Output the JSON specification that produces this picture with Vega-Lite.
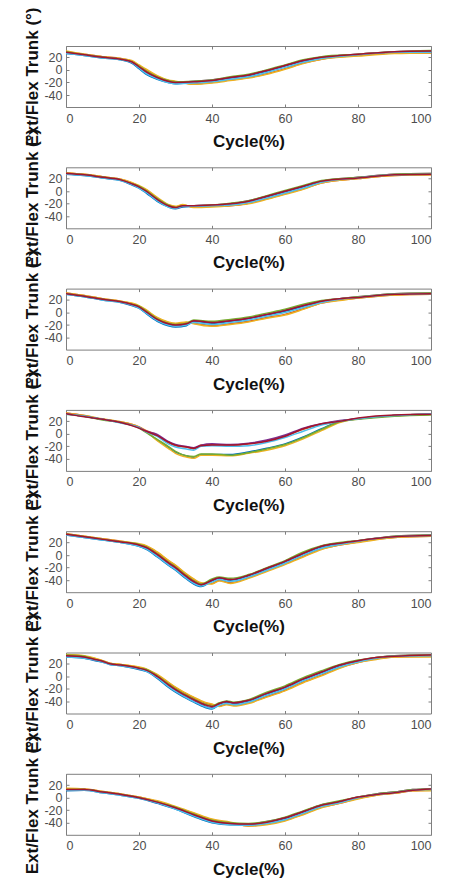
{
"$schema":"https://vega.github.io/schema/vega-lite/v6.json",
"padding":{"left":23,"top":6,"right":0,"bottom":0},
"bounds":"flush",
"data":{"values":[
{"p":1,"c":1,"x":0,"y":26},{"p":1,"c":1,"x":5,"y":23},{"p":1,"c":1,"x":10,"y":19},{"p":1,"c":1,"x":15,"y":16},{"p":1,"c":1,"x":18,"y":11},{"p":1,"c":1,"x":20,"y":2},{"p":1,"c":1,"x":22,"y":-7},{"p":1,"c":1,"x":25,"y":-15},{"p":1,"c":1,"x":28,"y":-20},{"p":1,"c":1,"x":30,"y":-22},{"p":1,"c":1,"x":35,"y":-19},{"p":1,"c":1,"x":40,"y":-17},{"p":1,"c":1,"x":45,"y":-13},{"p":1,"c":1,"x":50,"y":-9},{"p":1,"c":1,"x":55,"y":-2},{"p":1,"c":1,"x":60,"y":6},{"p":1,"c":1,"x":65,"y":14},{"p":1,"c":1,"x":70,"y":19},{"p":1,"c":1,"x":80,"y":24},{"p":1,"c":1,"x":90,"y":28},{"p":1,"c":1,"x":100,"y":29},
{"p":1,"c":2,"x":0,"y":29},{"p":1,"c":2,"x":5,"y":25},{"p":1,"c":2,"x":10,"y":21},{"p":1,"c":2,"x":15,"y":18},{"p":1,"c":2,"x":18,"y":14},{"p":1,"c":2,"x":20,"y":7},{"p":1,"c":2,"x":22,"y":-1},{"p":1,"c":2,"x":25,"y":-10},{"p":1,"c":2,"x":28,"y":-17},{"p":1,"c":2,"x":30,"y":-19},{"p":1,"c":2,"x":35,"y":-22},{"p":1,"c":2,"x":40,"y":-20},{"p":1,"c":2,"x":45,"y":-16},{"p":1,"c":2,"x":50,"y":-12},{"p":1,"c":2,"x":55,"y":-6},{"p":1,"c":2,"x":60,"y":2},{"p":1,"c":2,"x":65,"y":11},{"p":1,"c":2,"x":70,"y":17},{"p":1,"c":2,"x":80,"y":23},{"p":1,"c":2,"x":90,"y":27},{"p":1,"c":2,"x":100,"y":27},
{"p":1,"c":3,"x":0,"y":30},{"p":1,"c":3,"x":5,"y":25},{"p":1,"c":3,"x":10,"y":21},{"p":1,"c":3,"x":15,"y":18},{"p":1,"c":3,"x":18,"y":15},{"p":1,"c":3,"x":20,"y":8},{"p":1,"c":3,"x":22,"y":1},{"p":1,"c":3,"x":25,"y":-9},{"p":1,"c":3,"x":28,"y":-16},{"p":1,"c":3,"x":30,"y":-18},{"p":1,"c":3,"x":35,"y":-23},{"p":1,"c":3,"x":40,"y":-21},{"p":1,"c":3,"x":45,"y":-17},{"p":1,"c":3,"x":50,"y":-13},{"p":1,"c":3,"x":55,"y":-7},{"p":1,"c":3,"x":60,"y":1},{"p":1,"c":3,"x":65,"y":10},{"p":1,"c":3,"x":70,"y":17},{"p":1,"c":3,"x":80,"y":22},{"p":1,"c":3,"x":90,"y":26},{"p":1,"c":3,"x":100,"y":27},
{"p":1,"c":4,"x":0,"y":27},{"p":1,"c":4,"x":5,"y":24},{"p":1,"c":4,"x":10,"y":20},{"p":1,"c":4,"x":15,"y":17},{"p":1,"c":4,"x":18,"y":12},{"p":1,"c":4,"x":20,"y":4},{"p":1,"c":4,"x":22,"y":-4},{"p":1,"c":4,"x":25,"y":-13},{"p":1,"c":4,"x":28,"y":-19},{"p":1,"c":4,"x":30,"y":-21},{"p":1,"c":4,"x":35,"y":-18},{"p":1,"c":4,"x":40,"y":-16},{"p":1,"c":4,"x":45,"y":-12},{"p":1,"c":4,"x":50,"y":-8},{"p":1,"c":4,"x":55,"y":-1},{"p":1,"c":4,"x":60,"y":7},{"p":1,"c":4,"x":65,"y":15},{"p":1,"c":4,"x":70,"y":20},{"p":1,"c":4,"x":80,"y":25},{"p":1,"c":4,"x":90,"y":29},{"p":1,"c":4,"x":100,"y":30},
{"p":1,"c":5,"x":0,"y":29},{"p":1,"c":5,"x":5,"y":24},{"p":1,"c":5,"x":10,"y":20},{"p":1,"c":5,"x":15,"y":17},{"p":1,"c":5,"x":18,"y":13},{"p":1,"c":5,"x":20,"y":6},{"p":1,"c":5,"x":22,"y":-2},{"p":1,"c":5,"x":25,"y":-11},{"p":1,"c":5,"x":28,"y":-17},{"p":1,"c":5,"x":30,"y":-19},{"p":1,"c":5,"x":35,"y":-18},{"p":1,"c":5,"x":40,"y":-16},{"p":1,"c":5,"x":45,"y":-11},{"p":1,"c":5,"x":50,"y":-7},{"p":1,"c":5,"x":55,"y":0},{"p":1,"c":5,"x":60,"y":8},{"p":1,"c":5,"x":65,"y":16},{"p":1,"c":5,"x":70,"y":21},{"p":1,"c":5,"x":80,"y":25},{"p":1,"c":5,"x":90,"y":29},{"p":1,"c":5,"x":100,"y":31},
{"p":1,"c":6,"x":0,"y":26},{"p":1,"c":6,"x":5,"y":23},{"p":1,"c":6,"x":10,"y":19},{"p":1,"c":6,"x":15,"y":16},{"p":1,"c":6,"x":18,"y":12},{"p":1,"c":6,"x":20,"y":3},{"p":1,"c":6,"x":22,"y":-6},{"p":1,"c":6,"x":25,"y":-14},{"p":1,"c":6,"x":28,"y":-20},{"p":1,"c":6,"x":30,"y":-22},{"p":1,"c":6,"x":35,"y":-21},{"p":1,"c":6,"x":40,"y":-19},{"p":1,"c":6,"x":45,"y":-15},{"p":1,"c":6,"x":50,"y":-11},{"p":1,"c":6,"x":55,"y":-4},{"p":1,"c":6,"x":60,"y":4},{"p":1,"c":6,"x":65,"y":12},{"p":1,"c":6,"x":70,"y":18},{"p":1,"c":6,"x":80,"y":24},{"p":1,"c":6,"x":90,"y":28},{"p":1,"c":6,"x":100,"y":28},
{"p":1,"c":7,"x":0,"y":28},{"p":1,"c":7,"x":5,"y":24},{"p":1,"c":7,"x":10,"y":20},{"p":1,"c":7,"x":15,"y":17},{"p":1,"c":7,"x":18,"y":13},{"p":1,"c":7,"x":20,"y":5},{"p":1,"c":7,"x":22,"y":-3},{"p":1,"c":7,"x":25,"y":-12},{"p":1,"c":7,"x":28,"y":-18},{"p":1,"c":7,"x":30,"y":-20},{"p":1,"c":7,"x":35,"y":-19},{"p":1,"c":7,"x":40,"y":-17},{"p":1,"c":7,"x":45,"y":-12},{"p":1,"c":7,"x":50,"y":-8},{"p":1,"c":7,"x":55,"y":-1},{"p":1,"c":7,"x":60,"y":7},{"p":1,"c":7,"x":65,"y":15},{"p":1,"c":7,"x":70,"y":20},{"p":1,"c":7,"x":80,"y":25},{"p":1,"c":7,"x":90,"y":29},{"p":1,"c":7,"x":100,"y":30},

{"p":2,"c":1,"x":0,"y":27},{"p":2,"c":1,"x":5,"y":25},{"p":2,"c":1,"x":10,"y":21},{"p":2,"c":1,"x":15,"y":17},{"p":2,"c":1,"x":18,"y":10},{"p":2,"c":1,"x":20,"y":5},{"p":2,"c":1,"x":22,"y":-3},{"p":2,"c":1,"x":25,"y":-16},{"p":2,"c":1,"x":28,"y":-25},{"p":2,"c":1,"x":30,"y":-28},{"p":2,"c":1,"x":32,"y":-25},{"p":2,"c":1,"x":35,"y":-24},{"p":2,"c":1,"x":40,"y":-23},{"p":2,"c":1,"x":45,"y":-21},{"p":2,"c":1,"x":50,"y":-16},{"p":2,"c":1,"x":55,"y":-9},{"p":2,"c":1,"x":60,"y":-1},{"p":2,"c":1,"x":65,"y":7},{"p":2,"c":1,"x":70,"y":15},{"p":2,"c":1,"x":80,"y":21},{"p":2,"c":1,"x":90,"y":26},{"p":2,"c":1,"x":100,"y":27},
{"p":2,"c":2,"x":0,"y":29},{"p":2,"c":2,"x":5,"y":27},{"p":2,"c":2,"x":10,"y":23},{"p":2,"c":2,"x":15,"y":19},{"p":2,"c":2,"x":18,"y":13},{"p":2,"c":2,"x":20,"y":8},{"p":2,"c":2,"x":22,"y":2},{"p":2,"c":2,"x":25,"y":-11},{"p":2,"c":2,"x":28,"y":-22},{"p":2,"c":2,"x":30,"y":-25},{"p":2,"c":2,"x":32,"y":-22},{"p":2,"c":2,"x":35,"y":-25},{"p":2,"c":2,"x":40,"y":-24},{"p":2,"c":2,"x":45,"y":-23},{"p":2,"c":2,"x":50,"y":-19},{"p":2,"c":2,"x":55,"y":-12},{"p":2,"c":2,"x":60,"y":-4},{"p":2,"c":2,"x":65,"y":4},{"p":2,"c":2,"x":70,"y":13},{"p":2,"c":2,"x":80,"y":20},{"p":2,"c":2,"x":90,"y":25},{"p":2,"c":2,"x":100,"y":26},
{"p":2,"c":3,"x":0,"y":29},{"p":2,"c":3,"x":5,"y":27},{"p":2,"c":3,"x":10,"y":23},{"p":2,"c":3,"x":15,"y":19},{"p":2,"c":3,"x":18,"y":14},{"p":2,"c":3,"x":20,"y":9},{"p":2,"c":3,"x":22,"y":3},{"p":2,"c":3,"x":25,"y":-10},{"p":2,"c":3,"x":28,"y":-21},{"p":2,"c":3,"x":30,"y":-24},{"p":2,"c":3,"x":32,"y":-21},{"p":2,"c":3,"x":35,"y":-26},{"p":2,"c":3,"x":40,"y":-25},{"p":2,"c":3,"x":45,"y":-23},{"p":2,"c":3,"x":50,"y":-20},{"p":2,"c":3,"x":55,"y":-13},{"p":2,"c":3,"x":60,"y":-5},{"p":2,"c":3,"x":65,"y":3},{"p":2,"c":3,"x":70,"y":13},{"p":2,"c":3,"x":80,"y":20},{"p":2,"c":3,"x":90,"y":25},{"p":2,"c":3,"x":100,"y":26},
{"p":2,"c":4,"x":0,"y":28},{"p":2,"c":4,"x":5,"y":26},{"p":2,"c":4,"x":10,"y":22},{"p":2,"c":4,"x":15,"y":18},{"p":2,"c":4,"x":18,"y":11},{"p":2,"c":4,"x":20,"y":6},{"p":2,"c":4,"x":22,"y":-1},{"p":2,"c":4,"x":25,"y":-14},{"p":2,"c":4,"x":28,"y":-24},{"p":2,"c":4,"x":30,"y":-27},{"p":2,"c":4,"x":32,"y":-24},{"p":2,"c":4,"x":35,"y":-23},{"p":2,"c":4,"x":40,"y":-22},{"p":2,"c":4,"x":45,"y":-20},{"p":2,"c":4,"x":50,"y":-15},{"p":2,"c":4,"x":55,"y":-8},{"p":2,"c":4,"x":60,"y":0},{"p":2,"c":4,"x":65,"y":8},{"p":2,"c":4,"x":70,"y":16},{"p":2,"c":4,"x":80,"y":22},{"p":2,"c":4,"x":90,"y":27},{"p":2,"c":4,"x":100,"y":28},
{"p":2,"c":5,"x":0,"y":28},{"p":2,"c":5,"x":5,"y":26},{"p":2,"c":5,"x":10,"y":22},{"p":2,"c":5,"x":15,"y":18},{"p":2,"c":5,"x":18,"y":12},{"p":2,"c":5,"x":20,"y":8},{"p":2,"c":5,"x":22,"y":1},{"p":2,"c":5,"x":25,"y":-12},{"p":2,"c":5,"x":28,"y":-22},{"p":2,"c":5,"x":30,"y":-26},{"p":2,"c":5,"x":32,"y":-23},{"p":2,"c":5,"x":35,"y":-23},{"p":2,"c":5,"x":40,"y":-22},{"p":2,"c":5,"x":45,"y":-19},{"p":2,"c":5,"x":50,"y":-15},{"p":2,"c":5,"x":55,"y":-7},{"p":2,"c":5,"x":60,"y":1},{"p":2,"c":5,"x":65,"y":9},{"p":2,"c":5,"x":70,"y":17},{"p":2,"c":5,"x":80,"y":22},{"p":2,"c":5,"x":90,"y":27},{"p":2,"c":5,"x":100,"y":28},
{"p":2,"c":6,"x":0,"y":27},{"p":2,"c":6,"x":5,"y":25},{"p":2,"c":6,"x":10,"y":21},{"p":2,"c":6,"x":15,"y":17},{"p":2,"c":6,"x":18,"y":11},{"p":2,"c":6,"x":20,"y":5},{"p":2,"c":6,"x":22,"y":-2},{"p":2,"c":6,"x":25,"y":-15},{"p":2,"c":6,"x":28,"y":-25},{"p":2,"c":6,"x":30,"y":-27},{"p":2,"c":6,"x":32,"y":-24},{"p":2,"c":6,"x":35,"y":-24},{"p":2,"c":6,"x":40,"y":-23},{"p":2,"c":6,"x":45,"y":-22},{"p":2,"c":6,"x":50,"y":-18},{"p":2,"c":6,"x":55,"y":-11},{"p":2,"c":6,"x":60,"y":-3},{"p":2,"c":6,"x":65,"y":5},{"p":2,"c":6,"x":70,"y":14},{"p":2,"c":6,"x":80,"y":21},{"p":2,"c":6,"x":90,"y":26},{"p":2,"c":6,"x":100,"y":27},
{"p":2,"c":7,"x":0,"y":28},{"p":2,"c":7,"x":5,"y":26},{"p":2,"c":7,"x":10,"y":22},{"p":2,"c":7,"x":15,"y":18},{"p":2,"c":7,"x":18,"y":12},{"p":2,"c":7,"x":20,"y":7},{"p":2,"c":7,"x":22,"y":0},{"p":2,"c":7,"x":25,"y":-13},{"p":2,"c":7,"x":28,"y":-23},{"p":2,"c":7,"x":30,"y":-26},{"p":2,"c":7,"x":32,"y":-23},{"p":2,"c":7,"x":35,"y":-23},{"p":2,"c":7,"x":40,"y":-22},{"p":2,"c":7,"x":45,"y":-20},{"p":2,"c":7,"x":50,"y":-16},{"p":2,"c":7,"x":55,"y":-8},{"p":2,"c":7,"x":60,"y":0},{"p":2,"c":7,"x":65,"y":8},{"p":2,"c":7,"x":70,"y":16},{"p":2,"c":7,"x":80,"y":21},{"p":2,"c":7,"x":90,"y":26},{"p":2,"c":7,"x":100,"y":27},

{"p":3,"c":1,"x":0,"y":29},{"p":3,"c":1,"x":5,"y":25},{"p":3,"c":1,"x":10,"y":20},{"p":3,"c":1,"x":15,"y":16},{"p":3,"c":1,"x":18,"y":11},{"p":3,"c":1,"x":20,"y":7},{"p":3,"c":1,"x":22,"y":-2},{"p":3,"c":1,"x":25,"y":-14},{"p":3,"c":1,"x":28,"y":-21},{"p":3,"c":1,"x":30,"y":-23},{"p":3,"c":1,"x":33,"y":-21},{"p":3,"c":1,"x":35,"y":-14},{"p":3,"c":1,"x":40,"y":-17},{"p":3,"c":1,"x":45,"y":-14},{"p":3,"c":1,"x":50,"y":-10},{"p":3,"c":1,"x":55,"y":-4},{"p":3,"c":1,"x":60,"y":2},{"p":3,"c":1,"x":65,"y":10},{"p":3,"c":1,"x":70,"y":17},{"p":3,"c":1,"x":75,"y":21},{"p":3,"c":1,"x":80,"y":24},{"p":3,"c":1,"x":90,"y":29},{"p":3,"c":1,"x":100,"y":30},
{"p":3,"c":2,"x":0,"y":31},{"p":3,"c":2,"x":5,"y":27},{"p":3,"c":2,"x":10,"y":22},{"p":3,"c":2,"x":15,"y":18},{"p":3,"c":2,"x":18,"y":14},{"p":3,"c":2,"x":20,"y":10},{"p":3,"c":2,"x":22,"y":3},{"p":3,"c":2,"x":25,"y":-9},{"p":3,"c":2,"x":28,"y":-16},{"p":3,"c":2,"x":30,"y":-18},{"p":3,"c":2,"x":33,"y":-16},{"p":3,"c":2,"x":35,"y":-17},{"p":3,"c":2,"x":40,"y":-21},{"p":3,"c":2,"x":45,"y":-18},{"p":3,"c":2,"x":50,"y":-14},{"p":3,"c":2,"x":55,"y":-8},{"p":3,"c":2,"x":60,"y":-3},{"p":3,"c":2,"x":65,"y":6},{"p":3,"c":2,"x":70,"y":15},{"p":3,"c":2,"x":75,"y":20},{"p":3,"c":2,"x":80,"y":23},{"p":3,"c":2,"x":90,"y":28},{"p":3,"c":2,"x":100,"y":29},
{"p":3,"c":3,"x":0,"y":31},{"p":3,"c":3,"x":5,"y":27},{"p":3,"c":3,"x":10,"y":22},{"p":3,"c":3,"x":15,"y":18},{"p":3,"c":3,"x":18,"y":15},{"p":3,"c":3,"x":20,"y":11},{"p":3,"c":3,"x":22,"y":4},{"p":3,"c":3,"x":25,"y":-8},{"p":3,"c":3,"x":28,"y":-15},{"p":3,"c":3,"x":30,"y":-17},{"p":3,"c":3,"x":33,"y":-15},{"p":3,"c":3,"x":35,"y":-18},{"p":3,"c":3,"x":40,"y":-22},{"p":3,"c":3,"x":45,"y":-19},{"p":3,"c":3,"x":50,"y":-15},{"p":3,"c":3,"x":55,"y":-9},{"p":3,"c":3,"x":60,"y":-4},{"p":3,"c":3,"x":65,"y":5},{"p":3,"c":3,"x":70,"y":15},{"p":3,"c":3,"x":75,"y":19},{"p":3,"c":3,"x":80,"y":23},{"p":3,"c":3,"x":90,"y":28},{"p":3,"c":3,"x":100,"y":29},
{"p":3,"c":4,"x":0,"y":30},{"p":3,"c":4,"x":5,"y":26},{"p":3,"c":4,"x":10,"y":21},{"p":3,"c":4,"x":15,"y":17},{"p":3,"c":4,"x":18,"y":12},{"p":3,"c":4,"x":20,"y":8},{"p":3,"c":4,"x":22,"y":0},{"p":3,"c":4,"x":25,"y":-12},{"p":3,"c":4,"x":28,"y":-19},{"p":3,"c":4,"x":30,"y":-21},{"p":3,"c":4,"x":33,"y":-19},{"p":3,"c":4,"x":35,"y":-13},{"p":3,"c":4,"x":40,"y":-16},{"p":3,"c":4,"x":45,"y":-13},{"p":3,"c":4,"x":50,"y":-9},{"p":3,"c":4,"x":55,"y":-3},{"p":3,"c":4,"x":60,"y":4},{"p":3,"c":4,"x":65,"y":11},{"p":3,"c":4,"x":70,"y":18},{"p":3,"c":4,"x":75,"y":22},{"p":3,"c":4,"x":80,"y":25},{"p":3,"c":4,"x":90,"y":30},{"p":3,"c":4,"x":100,"y":31},
{"p":3,"c":5,"x":0,"y":30},{"p":3,"c":5,"x":5,"y":26},{"p":3,"c":5,"x":10,"y":21},{"p":3,"c":5,"x":15,"y":17},{"p":3,"c":5,"x":18,"y":13},{"p":3,"c":5,"x":20,"y":10},{"p":3,"c":5,"x":22,"y":2},{"p":3,"c":5,"x":25,"y":-10},{"p":3,"c":5,"x":28,"y":-17},{"p":3,"c":5,"x":30,"y":-19},{"p":3,"c":5,"x":33,"y":-17},{"p":3,"c":5,"x":35,"y":-12},{"p":3,"c":5,"x":40,"y":-14},{"p":3,"c":5,"x":45,"y":-11},{"p":3,"c":5,"x":50,"y":-7},{"p":3,"c":5,"x":55,"y":-1},{"p":3,"c":5,"x":60,"y":5},{"p":3,"c":5,"x":65,"y":13},{"p":3,"c":5,"x":70,"y":19},{"p":3,"c":5,"x":75,"y":22},{"p":3,"c":5,"x":80,"y":25},{"p":3,"c":5,"x":90,"y":30},{"p":3,"c":5,"x":100,"y":31},
{"p":3,"c":6,"x":0,"y":29},{"p":3,"c":6,"x":5,"y":25},{"p":3,"c":6,"x":10,"y":20},{"p":3,"c":6,"x":15,"y":16},{"p":3,"c":6,"x":18,"y":12},{"p":3,"c":6,"x":20,"y":7},{"p":3,"c":6,"x":22,"y":-1},{"p":3,"c":6,"x":25,"y":-13},{"p":3,"c":6,"x":28,"y":-20},{"p":3,"c":6,"x":30,"y":-22},{"p":3,"c":6,"x":33,"y":-20},{"p":3,"c":6,"x":35,"y":-16},{"p":3,"c":6,"x":40,"y":-19},{"p":3,"c":6,"x":45,"y":-16},{"p":3,"c":6,"x":50,"y":-12},{"p":3,"c":6,"x":55,"y":-6},{"p":3,"c":6,"x":60,"y":0},{"p":3,"c":6,"x":65,"y":8},{"p":3,"c":6,"x":70,"y":16},{"p":3,"c":6,"x":75,"y":21},{"p":3,"c":6,"x":80,"y":24},{"p":3,"c":6,"x":90,"y":29},{"p":3,"c":6,"x":100,"y":30},
{"p":3,"c":7,"x":0,"y":30},{"p":3,"c":7,"x":5,"y":26},{"p":3,"c":7,"x":10,"y":21},{"p":3,"c":7,"x":15,"y":17},{"p":3,"c":7,"x":18,"y":13},{"p":3,"c":7,"x":20,"y":9},{"p":3,"c":7,"x":22,"y":1},{"p":3,"c":7,"x":25,"y":-11},{"p":3,"c":7,"x":28,"y":-18},{"p":3,"c":7,"x":30,"y":-20},{"p":3,"c":7,"x":33,"y":-18},{"p":3,"c":7,"x":35,"y":-13},{"p":3,"c":7,"x":40,"y":-16},{"p":3,"c":7,"x":45,"y":-13},{"p":3,"c":7,"x":50,"y":-9},{"p":3,"c":7,"x":55,"y":-3},{"p":3,"c":7,"x":60,"y":3},{"p":3,"c":7,"x":65,"y":11},{"p":3,"c":7,"x":70,"y":18},{"p":3,"c":7,"x":75,"y":22},{"p":3,"c":7,"x":80,"y":24},{"p":3,"c":7,"x":90,"y":29},{"p":3,"c":7,"x":100,"y":30},

{"p":4,"c":1,"x":0,"y":32},{"p":4,"c":1,"x":5,"y":28},{"p":4,"c":1,"x":10,"y":23},{"p":4,"c":1,"x":15,"y":18},{"p":4,"c":1,"x":20,"y":10},{"p":4,"c":1,"x":22,"y":3},{"p":4,"c":1,"x":25,"y":-10},{"p":4,"c":1,"x":28,"y":-21},{"p":4,"c":1,"x":30,"y":-29},{"p":4,"c":1,"x":33,"y":-35},{"p":4,"c":1,"x":35,"y":-38},{"p":4,"c":1,"x":37,"y":-33},{"p":4,"c":1,"x":40,"y":-33},{"p":4,"c":1,"x":45,"y":-33},{"p":4,"c":1,"x":50,"y":-29},{"p":4,"c":1,"x":55,"y":-23},{"p":4,"c":1,"x":60,"y":-16},{"p":4,"c":1,"x":65,"y":-5},{"p":4,"c":1,"x":70,"y":8},{"p":4,"c":1,"x":75,"y":20},{"p":4,"c":1,"x":80,"y":24},{"p":4,"c":1,"x":90,"y":29},{"p":4,"c":1,"x":100,"y":31},
{"p":4,"c":2,"x":0,"y":33},{"p":4,"c":2,"x":5,"y":29},{"p":4,"c":2,"x":10,"y":23},{"p":4,"c":2,"x":15,"y":19},{"p":4,"c":2,"x":20,"y":11},{"p":4,"c":2,"x":22,"y":5},{"p":4,"c":2,"x":25,"y":-2},{"p":4,"c":2,"x":28,"y":-14},{"p":4,"c":2,"x":30,"y":-19},{"p":4,"c":2,"x":33,"y":-21},{"p":4,"c":2,"x":35,"y":-24},{"p":4,"c":2,"x":37,"y":-18},{"p":4,"c":2,"x":40,"y":-17},{"p":4,"c":2,"x":45,"y":-19},{"p":4,"c":2,"x":50,"y":-16},{"p":4,"c":2,"x":55,"y":-11},{"p":4,"c":2,"x":60,"y":-3},{"p":4,"c":2,"x":65,"y":7},{"p":4,"c":2,"x":70,"y":15},{"p":4,"c":2,"x":75,"y":20},{"p":4,"c":2,"x":80,"y":24},{"p":4,"c":2,"x":90,"y":29},{"p":4,"c":2,"x":100,"y":31},
{"p":4,"c":3,"x":0,"y":33},{"p":4,"c":3,"x":5,"y":29},{"p":4,"c":3,"x":10,"y":24},{"p":4,"c":3,"x":15,"y":19},{"p":4,"c":3,"x":20,"y":11},{"p":4,"c":3,"x":22,"y":4},{"p":4,"c":3,"x":25,"y":-11},{"p":4,"c":3,"x":28,"y":-23},{"p":4,"c":3,"x":30,"y":-31},{"p":4,"c":3,"x":33,"y":-37},{"p":4,"c":3,"x":35,"y":-39},{"p":4,"c":3,"x":37,"y":-34},{"p":4,"c":3,"x":40,"y":-34},{"p":4,"c":3,"x":45,"y":-35},{"p":4,"c":3,"x":50,"y":-31},{"p":4,"c":3,"x":55,"y":-26},{"p":4,"c":3,"x":60,"y":-19},{"p":4,"c":3,"x":65,"y":-8},{"p":4,"c":3,"x":70,"y":5},{"p":4,"c":3,"x":75,"y":18},{"p":4,"c":3,"x":80,"y":24},{"p":4,"c":3,"x":90,"y":29},{"p":4,"c":3,"x":100,"y":31},
{"p":4,"c":4,"x":0,"y":32},{"p":4,"c":4,"x":5,"y":28},{"p":4,"c":4,"x":10,"y":23},{"p":4,"c":4,"x":15,"y":18},{"p":4,"c":4,"x":20,"y":10},{"p":4,"c":4,"x":22,"y":4},{"p":4,"c":4,"x":25,"y":-1},{"p":4,"c":4,"x":28,"y":-12},{"p":4,"c":4,"x":30,"y":-17},{"p":4,"c":4,"x":33,"y":-20},{"p":4,"c":4,"x":35,"y":-22},{"p":4,"c":4,"x":37,"y":-18},{"p":4,"c":4,"x":40,"y":-16},{"p":4,"c":4,"x":45,"y":-17},{"p":4,"c":4,"x":50,"y":-15},{"p":4,"c":4,"x":55,"y":-10},{"p":4,"c":4,"x":60,"y":-2},{"p":4,"c":4,"x":65,"y":9},{"p":4,"c":4,"x":70,"y":16},{"p":4,"c":4,"x":75,"y":21},{"p":4,"c":4,"x":80,"y":24},{"p":4,"c":4,"x":90,"y":29},{"p":4,"c":4,"x":100,"y":31},
{"p":4,"c":5,"x":0,"y":31},{"p":4,"c":5,"x":5,"y":28},{"p":4,"c":5,"x":10,"y":22},{"p":4,"c":5,"x":15,"y":18},{"p":4,"c":5,"x":20,"y":9},{"p":4,"c":5,"x":22,"y":2},{"p":4,"c":5,"x":25,"y":-9},{"p":4,"c":5,"x":28,"y":-20},{"p":4,"c":5,"x":30,"y":-28},{"p":4,"c":5,"x":33,"y":-35},{"p":4,"c":5,"x":35,"y":-36},{"p":4,"c":5,"x":37,"y":-32},{"p":4,"c":5,"x":40,"y":-32},{"p":4,"c":5,"x":45,"y":-34},{"p":4,"c":5,"x":50,"y":-30},{"p":4,"c":5,"x":55,"y":-24},{"p":4,"c":5,"x":60,"y":-17},{"p":4,"c":5,"x":65,"y":-6},{"p":4,"c":5,"x":70,"y":7},{"p":4,"c":5,"x":75,"y":19},{"p":4,"c":5,"x":80,"y":23},{"p":4,"c":5,"x":90,"y":28},{"p":4,"c":5,"x":100,"y":30},
{"p":4,"c":6,"x":0,"y":31},{"p":4,"c":6,"x":5,"y":28},{"p":4,"c":6,"x":10,"y":23},{"p":4,"c":6,"x":15,"y":17},{"p":4,"c":6,"x":20,"y":10},{"p":4,"c":6,"x":22,"y":3},{"p":4,"c":6,"x":25,"y":-4},{"p":4,"c":6,"x":28,"y":-16},{"p":4,"c":6,"x":30,"y":-21},{"p":4,"c":6,"x":33,"y":-24},{"p":4,"c":6,"x":35,"y":-26},{"p":4,"c":6,"x":37,"y":-20},{"p":4,"c":6,"x":40,"y":-19},{"p":4,"c":6,"x":45,"y":-20},{"p":4,"c":6,"x":50,"y":-19},{"p":4,"c":6,"x":55,"y":-14},{"p":4,"c":6,"x":60,"y":-6},{"p":4,"c":6,"x":65,"y":4},{"p":4,"c":6,"x":70,"y":14},{"p":4,"c":6,"x":75,"y":20},{"p":4,"c":6,"x":80,"y":24},{"p":4,"c":6,"x":90,"y":29},{"p":4,"c":6,"x":100,"y":32},
{"p":4,"c":7,"x":0,"y":32},{"p":4,"c":7,"x":5,"y":27},{"p":4,"c":7,"x":10,"y":23},{"p":4,"c":7,"x":15,"y":18},{"p":4,"c":7,"x":20,"y":9},{"p":4,"c":7,"x":22,"y":4},{"p":4,"c":7,"x":25,"y":-3},{"p":4,"c":7,"x":28,"y":-13},{"p":4,"c":7,"x":30,"y":-18},{"p":4,"c":7,"x":33,"y":-21},{"p":4,"c":7,"x":35,"y":-23},{"p":4,"c":7,"x":37,"y":-19},{"p":4,"c":7,"x":40,"y":-18},{"p":4,"c":7,"x":45,"y":-18},{"p":4,"c":7,"x":50,"y":-16},{"p":4,"c":7,"x":55,"y":-12},{"p":4,"c":7,"x":60,"y":-4},{"p":4,"c":7,"x":65,"y":8},{"p":4,"c":7,"x":70,"y":16},{"p":4,"c":7,"x":75,"y":20},{"p":4,"c":7,"x":80,"y":25},{"p":4,"c":7,"x":90,"y":30},{"p":4,"c":7,"x":100,"y":31},

{"p":5,"c":1,"x":0,"y":32},{"p":5,"c":1,"x":5,"y":28},{"p":5,"c":1,"x":10,"y":24},{"p":5,"c":1,"x":15,"y":20},{"p":5,"c":1,"x":20,"y":14},{"p":5,"c":1,"x":22,"y":9},{"p":5,"c":1,"x":25,"y":-3},{"p":5,"c":1,"x":28,"y":-16},{"p":5,"c":1,"x":30,"y":-24},{"p":5,"c":1,"x":33,"y":-38},{"p":5,"c":1,"x":35,"y":-46},{"p":5,"c":1,"x":37,"y":-50},{"p":5,"c":1,"x":40,"y":-41},{"p":5,"c":1,"x":42,"y":-37},{"p":5,"c":1,"x":45,"y":-40},{"p":5,"c":1,"x":50,"y":-33},{"p":5,"c":1,"x":55,"y":-22},{"p":5,"c":1,"x":60,"y":-11},{"p":5,"c":1,"x":65,"y":2},{"p":5,"c":1,"x":70,"y":13},{"p":5,"c":1,"x":75,"y":18},{"p":5,"c":1,"x":80,"y":22},{"p":5,"c":1,"x":90,"y":29},{"p":5,"c":1,"x":100,"y":31},
{"p":5,"c":2,"x":0,"y":34},{"p":5,"c":2,"x":5,"y":30},{"p":5,"c":2,"x":10,"y":26},{"p":5,"c":2,"x":15,"y":22},{"p":5,"c":2,"x":20,"y":17},{"p":5,"c":2,"x":22,"y":14},{"p":5,"c":2,"x":25,"y":4},{"p":5,"c":2,"x":28,"y":-9},{"p":5,"c":2,"x":30,"y":-17},{"p":5,"c":2,"x":33,"y":-31},{"p":5,"c":2,"x":35,"y":-39},{"p":5,"c":2,"x":37,"y":-45},{"p":5,"c":2,"x":40,"y":-45},{"p":5,"c":2,"x":42,"y":-40},{"p":5,"c":2,"x":45,"y":-44},{"p":5,"c":2,"x":50,"y":-36},{"p":5,"c":2,"x":55,"y":-25},{"p":5,"c":2,"x":60,"y":-14},{"p":5,"c":2,"x":65,"y":-2},{"p":5,"c":2,"x":70,"y":10},{"p":5,"c":2,"x":75,"y":16},{"p":5,"c":2,"x":80,"y":21},{"p":5,"c":2,"x":90,"y":28},{"p":5,"c":2,"x":100,"y":30},
{"p":5,"c":3,"x":0,"y":34},{"p":5,"c":3,"x":5,"y":30},{"p":5,"c":3,"x":10,"y":26},{"p":5,"c":3,"x":15,"y":22},{"p":5,"c":3,"x":20,"y":18},{"p":5,"c":3,"x":22,"y":15},{"p":5,"c":3,"x":25,"y":5},{"p":5,"c":3,"x":28,"y":-8},{"p":5,"c":3,"x":30,"y":-16},{"p":5,"c":3,"x":33,"y":-30},{"p":5,"c":3,"x":35,"y":-38},{"p":5,"c":3,"x":37,"y":-44},{"p":5,"c":3,"x":40,"y":-46},{"p":5,"c":3,"x":42,"y":-41},{"p":5,"c":3,"x":45,"y":-45},{"p":5,"c":3,"x":50,"y":-37},{"p":5,"c":3,"x":55,"y":-26},{"p":5,"c":3,"x":60,"y":-15},{"p":5,"c":3,"x":65,"y":-3},{"p":5,"c":3,"x":70,"y":9},{"p":5,"c":3,"x":75,"y":16},{"p":5,"c":3,"x":80,"y":20},{"p":5,"c":3,"x":90,"y":28},{"p":5,"c":3,"x":100,"y":30},
{"p":5,"c":4,"x":0,"y":33},{"p":5,"c":4,"x":5,"y":29},{"p":5,"c":4,"x":10,"y":25},{"p":5,"c":4,"x":15,"y":21},{"p":5,"c":4,"x":20,"y":15},{"p":5,"c":4,"x":22,"y":11},{"p":5,"c":4,"x":25,"y":-1},{"p":5,"c":4,"x":28,"y":-14},{"p":5,"c":4,"x":30,"y":-22},{"p":5,"c":4,"x":33,"y":-36},{"p":5,"c":4,"x":35,"y":-44},{"p":5,"c":4,"x":37,"y":-48},{"p":5,"c":4,"x":40,"y":-40},{"p":5,"c":4,"x":42,"y":-36},{"p":5,"c":4,"x":45,"y":-39},{"p":5,"c":4,"x":50,"y":-32},{"p":5,"c":4,"x":55,"y":-21},{"p":5,"c":4,"x":60,"y":-10},{"p":5,"c":4,"x":65,"y":3},{"p":5,"c":4,"x":70,"y":14},{"p":5,"c":4,"x":75,"y":19},{"p":5,"c":4,"x":80,"y":23},{"p":5,"c":4,"x":90,"y":30},{"p":5,"c":4,"x":100,"y":32},
{"p":5,"c":5,"x":0,"y":33},{"p":5,"c":5,"x":5,"y":29},{"p":5,"c":5,"x":10,"y":25},{"p":5,"c":5,"x":15,"y":21},{"p":5,"c":5,"x":20,"y":17},{"p":5,"c":5,"x":22,"y":13},{"p":5,"c":5,"x":25,"y":2},{"p":5,"c":5,"x":28,"y":-11},{"p":5,"c":5,"x":30,"y":-19},{"p":5,"c":5,"x":33,"y":-33},{"p":5,"c":5,"x":35,"y":-41},{"p":5,"c":5,"x":37,"y":-46},{"p":5,"c":5,"x":40,"y":-38},{"p":5,"c":5,"x":42,"y":-35},{"p":5,"c":5,"x":45,"y":-37},{"p":5,"c":5,"x":50,"y":-31},{"p":5,"c":5,"x":55,"y":-20},{"p":5,"c":5,"x":60,"y":-9},{"p":5,"c":5,"x":65,"y":5},{"p":5,"c":5,"x":70,"y":15},{"p":5,"c":5,"x":75,"y":20},{"p":5,"c":5,"x":80,"y":23},{"p":5,"c":5,"x":90,"y":30},{"p":5,"c":5,"x":100,"y":32},
{"p":5,"c":6,"x":0,"y":32},{"p":5,"c":6,"x":5,"y":28},{"p":5,"c":6,"x":10,"y":24},{"p":5,"c":6,"x":15,"y":20},{"p":5,"c":6,"x":20,"y":14},{"p":5,"c":6,"x":22,"y":10},{"p":5,"c":6,"x":25,"y":-2},{"p":5,"c":6,"x":28,"y":-15},{"p":5,"c":6,"x":30,"y":-23},{"p":5,"c":6,"x":33,"y":-37},{"p":5,"c":6,"x":35,"y":-45},{"p":5,"c":6,"x":37,"y":-49},{"p":5,"c":6,"x":40,"y":-43},{"p":5,"c":6,"x":42,"y":-39},{"p":5,"c":6,"x":45,"y":-42},{"p":5,"c":6,"x":50,"y":-35},{"p":5,"c":6,"x":55,"y":-24},{"p":5,"c":6,"x":60,"y":-13},{"p":5,"c":6,"x":65,"y":0},{"p":5,"c":6,"x":70,"y":11},{"p":5,"c":6,"x":75,"y":17},{"p":5,"c":6,"x":80,"y":22},{"p":5,"c":6,"x":90,"y":29},{"p":5,"c":6,"x":100,"y":31},
{"p":5,"c":7,"x":0,"y":33},{"p":5,"c":7,"x":5,"y":29},{"p":5,"c":7,"x":10,"y":25},{"p":5,"c":7,"x":15,"y":21},{"p":5,"c":7,"x":20,"y":16},{"p":5,"c":7,"x":22,"y":12},{"p":5,"c":7,"x":25,"y":1},{"p":5,"c":7,"x":28,"y":-12},{"p":5,"c":7,"x":30,"y":-20},{"p":5,"c":7,"x":33,"y":-34},{"p":5,"c":7,"x":35,"y":-42},{"p":5,"c":7,"x":37,"y":-47},{"p":5,"c":7,"x":40,"y":-40},{"p":5,"c":7,"x":42,"y":-36},{"p":5,"c":7,"x":45,"y":-39},{"p":5,"c":7,"x":50,"y":-32},{"p":5,"c":7,"x":55,"y":-21},{"p":5,"c":7,"x":60,"y":-10},{"p":5,"c":7,"x":65,"y":3},{"p":5,"c":7,"x":70,"y":14},{"p":5,"c":7,"x":75,"y":19},{"p":5,"c":7,"x":80,"y":23},{"p":5,"c":7,"x":90,"y":29},{"p":5,"c":7,"x":100,"y":31},

{"p":6,"c":1,"x":0,"y":31},{"p":6,"c":1,"x":5,"y":29},{"p":6,"c":1,"x":8,"y":25},{"p":6,"c":1,"x":10,"y":23},{"p":6,"c":1,"x":12,"y":19},{"p":6,"c":1,"x":15,"y":17},{"p":6,"c":1,"x":20,"y":11},{"p":6,"c":1,"x":22,"y":8},{"p":6,"c":1,"x":25,"y":-3},{"p":6,"c":1,"x":28,"y":-17},{"p":6,"c":1,"x":30,"y":-25},{"p":6,"c":1,"x":33,"y":-35},{"p":6,"c":1,"x":35,"y":-41},{"p":6,"c":1,"x":38,"y":-49},{"p":6,"c":1,"x":40,"y":-52},{"p":6,"c":1,"x":42,"y":-44},{"p":6,"c":1,"x":44,"y":-41},{"p":6,"c":1,"x":46,"y":-43},{"p":6,"c":1,"x":50,"y":-39},{"p":6,"c":1,"x":55,"y":-28},{"p":6,"c":1,"x":60,"y":-18},{"p":6,"c":1,"x":65,"y":-5},{"p":6,"c":1,"x":70,"y":6},{"p":6,"c":1,"x":75,"y":17},{"p":6,"c":1,"x":80,"y":24},{"p":6,"c":1,"x":85,"y":29},{"p":6,"c":1,"x":90,"y":32},{"p":6,"c":1,"x":100,"y":33},
{"p":6,"c":2,"x":0,"y":34},{"p":6,"c":2,"x":5,"y":32},{"p":6,"c":2,"x":8,"y":28},{"p":6,"c":2,"x":10,"y":25},{"p":6,"c":2,"x":12,"y":21},{"p":6,"c":2,"x":15,"y":19},{"p":6,"c":2,"x":20,"y":14},{"p":6,"c":2,"x":22,"y":11},{"p":6,"c":2,"x":25,"y":2},{"p":6,"c":2,"x":28,"y":-10},{"p":6,"c":2,"x":30,"y":-18},{"p":6,"c":2,"x":33,"y":-28},{"p":6,"c":2,"x":35,"y":-34},{"p":6,"c":2,"x":38,"y":-42},{"p":6,"c":2,"x":40,"y":-45},{"p":6,"c":2,"x":42,"y":-47},{"p":6,"c":2,"x":44,"y":-44},{"p":6,"c":2,"x":46,"y":-46},{"p":6,"c":2,"x":50,"y":-42},{"p":6,"c":2,"x":55,"y":-32},{"p":6,"c":2,"x":60,"y":-22},{"p":6,"c":2,"x":65,"y":-9},{"p":6,"c":2,"x":70,"y":2},{"p":6,"c":2,"x":75,"y":14},{"p":6,"c":2,"x":80,"y":22},{"p":6,"c":2,"x":85,"y":28},{"p":6,"c":2,"x":90,"y":31},{"p":6,"c":2,"x":100,"y":32},
{"p":6,"c":3,"x":0,"y":35},{"p":6,"c":3,"x":5,"y":33},{"p":6,"c":3,"x":8,"y":29},{"p":6,"c":3,"x":10,"y":25},{"p":6,"c":3,"x":12,"y":21},{"p":6,"c":3,"x":15,"y":19},{"p":6,"c":3,"x":20,"y":15},{"p":6,"c":3,"x":22,"y":12},{"p":6,"c":3,"x":25,"y":3},{"p":6,"c":3,"x":28,"y":-9},{"p":6,"c":3,"x":30,"y":-17},{"p":6,"c":3,"x":33,"y":-27},{"p":6,"c":3,"x":35,"y":-33},{"p":6,"c":3,"x":38,"y":-41},{"p":6,"c":3,"x":40,"y":-44},{"p":6,"c":3,"x":42,"y":-48},{"p":6,"c":3,"x":44,"y":-45},{"p":6,"c":3,"x":46,"y":-47},{"p":6,"c":3,"x":50,"y":-43},{"p":6,"c":3,"x":55,"y":-33},{"p":6,"c":3,"x":60,"y":-23},{"p":6,"c":3,"x":65,"y":-10},{"p":6,"c":3,"x":70,"y":1},{"p":6,"c":3,"x":75,"y":13},{"p":6,"c":3,"x":80,"y":22},{"p":6,"c":3,"x":85,"y":27},{"p":6,"c":3,"x":90,"y":31},{"p":6,"c":3,"x":100,"y":31},
{"p":6,"c":4,"x":0,"y":32},{"p":6,"c":4,"x":5,"y":30},{"p":6,"c":4,"x":8,"y":26},{"p":6,"c":4,"x":10,"y":24},{"p":6,"c":4,"x":12,"y":20},{"p":6,"c":4,"x":15,"y":18},{"p":6,"c":4,"x":20,"y":12},{"p":6,"c":4,"x":22,"y":9},{"p":6,"c":4,"x":25,"y":-1},{"p":6,"c":4,"x":28,"y":-15},{"p":6,"c":4,"x":30,"y":-23},{"p":6,"c":4,"x":33,"y":-33},{"p":6,"c":4,"x":35,"y":-39},{"p":6,"c":4,"x":38,"y":-47},{"p":6,"c":4,"x":40,"y":-50},{"p":6,"c":4,"x":42,"y":-43},{"p":6,"c":4,"x":44,"y":-40},{"p":6,"c":4,"x":46,"y":-42},{"p":6,"c":4,"x":50,"y":-38},{"p":6,"c":4,"x":55,"y":-27},{"p":6,"c":4,"x":60,"y":-17},{"p":6,"c":4,"x":65,"y":-4},{"p":6,"c":4,"x":70,"y":7},{"p":6,"c":4,"x":75,"y":18},{"p":6,"c":4,"x":80,"y":25},{"p":6,"c":4,"x":85,"y":30},{"p":6,"c":4,"x":90,"y":33},{"p":6,"c":4,"x":100,"y":34},
{"p":6,"c":5,"x":0,"y":34},{"p":6,"c":5,"x":5,"y":32},{"p":6,"c":5,"x":8,"y":27},{"p":6,"c":5,"x":10,"y":24},{"p":6,"c":5,"x":12,"y":20},{"p":6,"c":5,"x":15,"y":18},{"p":6,"c":5,"x":20,"y":13},{"p":6,"c":5,"x":22,"y":11},{"p":6,"c":5,"x":25,"y":1},{"p":6,"c":5,"x":28,"y":-12},{"p":6,"c":5,"x":30,"y":-20},{"p":6,"c":5,"x":33,"y":-30},{"p":6,"c":5,"x":35,"y":-36},{"p":6,"c":5,"x":38,"y":-44},{"p":6,"c":5,"x":40,"y":-47},{"p":6,"c":5,"x":42,"y":-42},{"p":6,"c":5,"x":44,"y":-39},{"p":6,"c":5,"x":46,"y":-41},{"p":6,"c":5,"x":50,"y":-37},{"p":6,"c":5,"x":55,"y":-25},{"p":6,"c":5,"x":60,"y":-15},{"p":6,"c":5,"x":65,"y":-2},{"p":6,"c":5,"x":70,"y":9},{"p":6,"c":5,"x":75,"y":19},{"p":6,"c":5,"x":80,"y":26},{"p":6,"c":5,"x":85,"y":30},{"p":6,"c":5,"x":90,"y":33},{"p":6,"c":5,"x":100,"y":34},
{"p":6,"c":6,"x":0,"y":31},{"p":6,"c":6,"x":5,"y":29},{"p":6,"c":6,"x":8,"y":26},{"p":6,"c":6,"x":10,"y":23},{"p":6,"c":6,"x":12,"y":19},{"p":6,"c":6,"x":15,"y":17},{"p":6,"c":6,"x":20,"y":12},{"p":6,"c":6,"x":22,"y":8},{"p":6,"c":6,"x":25,"y":-2},{"p":6,"c":6,"x":28,"y":-16},{"p":6,"c":6,"x":30,"y":-24},{"p":6,"c":6,"x":33,"y":-34},{"p":6,"c":6,"x":35,"y":-40},{"p":6,"c":6,"x":38,"y":-48},{"p":6,"c":6,"x":40,"y":-51},{"p":6,"c":6,"x":42,"y":-46},{"p":6,"c":6,"x":44,"y":-43},{"p":6,"c":6,"x":46,"y":-45},{"p":6,"c":6,"x":50,"y":-41},{"p":6,"c":6,"x":55,"y":-30},{"p":6,"c":6,"x":60,"y":-20},{"p":6,"c":6,"x":65,"y":-7},{"p":6,"c":6,"x":70,"y":4},{"p":6,"c":6,"x":75,"y":15},{"p":6,"c":6,"x":80,"y":23},{"p":6,"c":6,"x":85,"y":29},{"p":6,"c":6,"x":90,"y":32},{"p":6,"c":6,"x":100,"y":33},
{"p":6,"c":7,"x":0,"y":33},{"p":6,"c":7,"x":5,"y":31},{"p":6,"c":7,"x":8,"y":27},{"p":6,"c":7,"x":10,"y":24},{"p":6,"c":7,"x":12,"y":20},{"p":6,"c":7,"x":15,"y":18},{"p":6,"c":7,"x":20,"y":13},{"p":6,"c":7,"x":22,"y":10},{"p":6,"c":7,"x":25,"y":0},{"p":6,"c":7,"x":28,"y":-13},{"p":6,"c":7,"x":30,"y":-21},{"p":6,"c":7,"x":33,"y":-31},{"p":6,"c":7,"x":35,"y":-37},{"p":6,"c":7,"x":38,"y":-45},{"p":6,"c":7,"x":40,"y":-48},{"p":6,"c":7,"x":42,"y":-43},{"p":6,"c":7,"x":44,"y":-40},{"p":6,"c":7,"x":46,"y":-42},{"p":6,"c":7,"x":50,"y":-38},{"p":6,"c":7,"x":55,"y":-27},{"p":6,"c":7,"x":60,"y":-17},{"p":6,"c":7,"x":65,"y":-4},{"p":6,"c":7,"x":70,"y":7},{"p":6,"c":7,"x":75,"y":18},{"p":6,"c":7,"x":80,"y":25},{"p":6,"c":7,"x":85,"y":30},{"p":6,"c":7,"x":90,"y":32},{"p":6,"c":7,"x":100,"y":34},

{"p":7,"c":1,"x":0,"y":11},{"p":7,"c":1,"x":5,"y":12},{"p":7,"c":1,"x":10,"y":8},{"p":7,"c":1,"x":15,"y":4},{"p":7,"c":1,"x":20,"y":-1},{"p":7,"c":1,"x":25,"y":-9},{"p":7,"c":1,"x":30,"y":-18},{"p":7,"c":1,"x":35,"y":-30},{"p":7,"c":1,"x":40,"y":-40},{"p":7,"c":1,"x":45,"y":-43},{"p":7,"c":1,"x":50,"y":-43},{"p":7,"c":1,"x":55,"y":-39},{"p":7,"c":1,"x":60,"y":-33},{"p":7,"c":1,"x":65,"y":-23},{"p":7,"c":1,"x":70,"y":-12},{"p":7,"c":1,"x":75,"y":-7},{"p":7,"c":1,"x":80,"y":0},{"p":7,"c":1,"x":85,"y":5},{"p":7,"c":1,"x":90,"y":8},{"p":7,"c":1,"x":95,"y":12},{"p":7,"c":1,"x":100,"y":13},
{"p":7,"c":2,"x":0,"y":14},{"p":7,"c":2,"x":5,"y":14},{"p":7,"c":2,"x":10,"y":10},{"p":7,"c":2,"x":15,"y":6},{"p":7,"c":2,"x":20,"y":1},{"p":7,"c":2,"x":25,"y":-6},{"p":7,"c":2,"x":30,"y":-15},{"p":7,"c":2,"x":35,"y":-25},{"p":7,"c":2,"x":40,"y":-35},{"p":7,"c":2,"x":45,"y":-40},{"p":7,"c":2,"x":50,"y":-45},{"p":7,"c":2,"x":55,"y":-42},{"p":7,"c":2,"x":60,"y":-36},{"p":7,"c":2,"x":65,"y":-26},{"p":7,"c":2,"x":70,"y":-15},{"p":7,"c":2,"x":75,"y":-9},{"p":7,"c":2,"x":80,"y":-1},{"p":7,"c":2,"x":85,"y":4},{"p":7,"c":2,"x":90,"y":7},{"p":7,"c":2,"x":95,"y":11},{"p":7,"c":2,"x":100,"y":12},
{"p":7,"c":3,"x":0,"y":15},{"p":7,"c":3,"x":5,"y":14},{"p":7,"c":3,"x":10,"y":10},{"p":7,"c":3,"x":15,"y":6},{"p":7,"c":3,"x":20,"y":1},{"p":7,"c":3,"x":25,"y":-5},{"p":7,"c":3,"x":30,"y":-14},{"p":7,"c":3,"x":35,"y":-24},{"p":7,"c":3,"x":40,"y":-34},{"p":7,"c":3,"x":45,"y":-39},{"p":7,"c":3,"x":50,"y":-45},{"p":7,"c":3,"x":55,"y":-43},{"p":7,"c":3,"x":60,"y":-37},{"p":7,"c":3,"x":65,"y":-27},{"p":7,"c":3,"x":70,"y":-16},{"p":7,"c":3,"x":75,"y":-9},{"p":7,"c":3,"x":80,"y":-2},{"p":7,"c":3,"x":85,"y":4},{"p":7,"c":3,"x":90,"y":7},{"p":7,"c":3,"x":95,"y":11},{"p":7,"c":3,"x":100,"y":11},
{"p":7,"c":4,"x":0,"y":12},{"p":7,"c":4,"x":5,"y":13},{"p":7,"c":4,"x":10,"y":9},{"p":7,"c":4,"x":15,"y":5},{"p":7,"c":4,"x":20,"y":0},{"p":7,"c":4,"x":25,"y":-8},{"p":7,"c":4,"x":30,"y":-17},{"p":7,"c":4,"x":35,"y":-28},{"p":7,"c":4,"x":40,"y":-38},{"p":7,"c":4,"x":45,"y":-42},{"p":7,"c":4,"x":50,"y":-42},{"p":7,"c":4,"x":55,"y":-38},{"p":7,"c":4,"x":60,"y":-32},{"p":7,"c":4,"x":65,"y":-22},{"p":7,"c":4,"x":70,"y":-11},{"p":7,"c":4,"x":75,"y":-6},{"p":7,"c":4,"x":80,"y":1},{"p":7,"c":4,"x":85,"y":6},{"p":7,"c":4,"x":90,"y":9},{"p":7,"c":4,"x":95,"y":13},{"p":7,"c":4,"x":100,"y":14},
{"p":7,"c":5,"x":0,"y":13},{"p":7,"c":5,"x":5,"y":13},{"p":7,"c":5,"x":10,"y":9},{"p":7,"c":5,"x":15,"y":5},{"p":7,"c":5,"x":20,"y":0},{"p":7,"c":5,"x":25,"y":-7},{"p":7,"c":5,"x":30,"y":-15},{"p":7,"c":5,"x":35,"y":-26},{"p":7,"c":5,"x":40,"y":-36},{"p":7,"c":5,"x":45,"y":-40},{"p":7,"c":5,"x":50,"y":-41},{"p":7,"c":5,"x":55,"y":-38},{"p":7,"c":5,"x":60,"y":-31},{"p":7,"c":5,"x":65,"y":-21},{"p":7,"c":5,"x":70,"y":-11},{"p":7,"c":5,"x":75,"y":-5},{"p":7,"c":5,"x":80,"y":1},{"p":7,"c":5,"x":85,"y":6},{"p":7,"c":5,"x":90,"y":9},{"p":7,"c":5,"x":95,"y":13},{"p":7,"c":5,"x":100,"y":14},
{"p":7,"c":6,"x":0,"y":12},{"p":7,"c":6,"x":5,"y":12},{"p":7,"c":6,"x":10,"y":8},{"p":7,"c":6,"x":15,"y":4},{"p":7,"c":6,"x":20,"y":-1},{"p":7,"c":6,"x":25,"y":-8},{"p":7,"c":6,"x":30,"y":-18},{"p":7,"c":6,"x":35,"y":-29},{"p":7,"c":6,"x":40,"y":-39},{"p":7,"c":6,"x":45,"y":-43},{"p":7,"c":6,"x":50,"y":-44},{"p":7,"c":6,"x":55,"y":-41},{"p":7,"c":6,"x":60,"y":-35},{"p":7,"c":6,"x":65,"y":-25},{"p":7,"c":6,"x":70,"y":-14},{"p":7,"c":6,"x":75,"y":-8},{"p":7,"c":6,"x":80,"y":0},{"p":7,"c":6,"x":85,"y":5},{"p":7,"c":6,"x":90,"y":8},{"p":7,"c":6,"x":95,"y":12},{"p":7,"c":6,"x":100,"y":13},
{"p":7,"c":7,"x":0,"y":13},{"p":7,"c":7,"x":5,"y":13},{"p":7,"c":7,"x":10,"y":9},{"p":7,"c":7,"x":15,"y":5},{"p":7,"c":7,"x":20,"y":0},{"p":7,"c":7,"x":25,"y":-7},{"p":7,"c":7,"x":30,"y":-16},{"p":7,"c":7,"x":35,"y":-27},{"p":7,"c":7,"x":40,"y":-37},{"p":7,"c":7,"x":45,"y":-41},{"p":7,"c":7,"x":50,"y":-42},{"p":7,"c":7,"x":55,"y":-39},{"p":7,"c":7,"x":60,"y":-32},{"p":7,"c":7,"x":65,"y":-22},{"p":7,"c":7,"x":70,"y":-12},{"p":7,"c":7,"x":75,"y":-6},{"p":7,"c":7,"x":80,"y":1},{"p":7,"c":7,"x":85,"y":5},{"p":7,"c":7,"x":90,"y":8},{"p":7,"c":7,"x":95,"y":12},{"p":7,"c":7,"x":100,"y":14}
]},
"facet":{"row":{"field":"p","type":"ordinal","header":{"labels":false,"title":null}}},
"spacing":{"row":60.3},
"resolve":{"axis":{"x":"independent","y":"independent"}},
"spec":{
"width":365,"height":61,
"layer":[
{"mark":{"type":"line","strokeWidth":1.5,"interpolate":"monotone","clip":true},
"encoding":{
"x":{"field":"x","type":"quantitative","scale":{"domain":[0,100],"nice":false},"axis":{"values":[0,20,40,60,80,100],"title":"Cycle(%)"}},
"y":{"field":"y","type":"quantitative","scale":{"domain":[-59,38],"nice":false,"zero":false},"axis":{"values":[-40,-20,0,20],"title":"Ext/Flex Trunk (°)","labelExpr":"'' + datum.value"}},
"color":{"field":"c","type":"nominal","scale":{"domain":[1,2,3,4,5,6,7],"range":["#0072BD","#D95319","#EDB120","#7E2F8E","#77AC30","#4DBEEE","#A2142F"]},"legend":null}
}},
{"mark":{"type":"point","opacity":0},
"encoding":{
"x":{"field":"x","type":"quantitative","scale":{"domain":[0,100],"nice":false},"axis":{"orient":"top","values":[0,20,40,60,80,100],"labels":false,"title":null}},
"y":{"field":"y","type":"quantitative","scale":{"domain":[-59,38],"nice":false,"zero":false},"axis":{"orient":"right","values":[-40,-20,0,20],"labels":false,"title":null}}
}}
],
"resolve":{"axis":{"x":"independent","y":"independent"}}
},
"config":{
"font":"Liberation Sans",
"view":{"stroke":"#7f7f7f","strokeWidth":1},
"axis":{"grid":false,"domain":false,"tickColor":"#7f7f7f","tickSize":-3,"labelFont":"Liberation Sans","labelFontSize":12.5,"labelColor":"#4d4d4d","titleFont":"Liberation Sans","titleFontSize":17,"titleFontWeight":"bold","titleColor":"#111111"},
"axisX":{"labelPadding":8,"titlePadding":9},
"axisY":{"labelPadding":7,"titlePadding":2}
}
}
